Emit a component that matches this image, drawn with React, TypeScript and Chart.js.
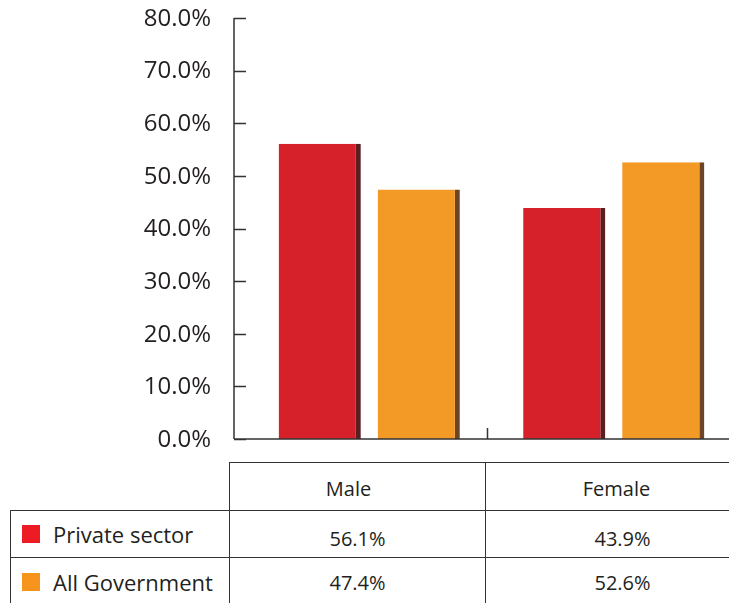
import React, { useEffect, useRef } from "react";
import { Chart, registerables } from "chart.js";

Chart.register(...registerables);

const categories = ["Male", "Female"];
const seriesNames = ["Private sector", "All Government"];
const privateSector = [56.1, 43.9];
const allGovernment = [47.4, 52.6];
const yTicks = [0, 10, 20, 30, 40, 50, 60, 70, 80];

const FONT = "'Open Sans', 'Noto Sans', sans-serif";
const TEXT = "#231f20";
const faceColors = ["#d7212a", "#f39a26"];
const sideColors = ["#5b1e23", "#6c4526"];
const legendColors = ["#ed1c24", "#f7941d"];

const fmt = (v: number) => v.toFixed(1) + "%";

const axesPlugin = {
  id: "customAxes",
  afterDatasetsDraw(chart: any) {
    const { ctx, chartArea, scales } = chart;
    const x = scales.x;
    const y = scales.y;
    const axisX = chartArea.left - 13;
    const y0 = y.getPixelForValue(0);
    const yTop = y.getPixelForValue(yTicks[yTicks.length - 1]);
    ctx.save();
    ctx.strokeStyle = "#333";
    ctx.lineWidth = 1.5;
    ctx.beginPath();
    ctx.moveTo(axisX, yTop);
    ctx.lineTo(axisX, y0);
    ctx.moveTo(axisX, y0);
    ctx.lineTo(chart.width, y0);
    yTicks.forEach((t) => {
      const py = Math.round(y.getPixelForValue(t)) + 0.5;
      ctx.moveTo(axisX, py);
      ctx.lineTo(axisX + 12, py);
    });
    for (let i = 0; i < categories.length - 1; i++) {
      const bx = (x.getPixelForValue(i) + x.getPixelForValue(i + 1)) / 2 - 4;
      ctx.moveTo(bx, y0 - 11);
      ctx.lineTo(bx, y0);
    }
    ctx.stroke();
    ctx.fillStyle = TEXT;
    ctx.font = "24px " + FONT;
    ctx.textAlign = "right";
    ctx.textBaseline = "middle";
    yTicks.forEach((t) => {
      ctx.fillText(fmt(t), axisX - 23, y.getPixelForValue(t) + 1);
    });
    ctx.restore();
  },
};

function ChartCanvas() {
  const ref = useRef<HTMLCanvasElement | null>(null);
  useEffect(() => {
    if (!ref.current) return;
    const chart = new Chart(ref.current, {
      type: "bar",
      data: {
        labels: categories,
        datasets: [privateSector, allGovernment].map((d, i) => ({
          label: seriesNames[i],
          data: d,
          backgroundColor: faceColors[i],
          borderColor: sideColors[i],
          borderWidth: { top: 0, left: 0, bottom: 0, right: 5 },
          borderSkipped: false,
          categoryPercentage: 0.81,
          barPercentage: 0.83,
        })),
      },
      options: {
        responsive: false,
        animation: false,
        devicePixelRatio: 1,
        layout: { padding: { left: 247, right: 9, top: 18, bottom: 21 } },
        plugins: { legend: { display: false }, tooltip: { enabled: false } },
        scales: {
          x: { display: false },
          y: { display: false, min: 0, max: 80 },
        },
      },
      plugins: [axesPlugin],
    } as any);
    return () => chart.destroy();
  }, []);
  return (
    <canvas
      ref={ref}
      width={745}
      height={460}
      style={{ position: "absolute", left: 0, top: 0, width: 745, height: 460 }}
    />
  );
}

const LINE = "1.5px solid #333";

export default function App() {
  const rows = [privateSector, allGovernment];
  const colLeft = [10, 229, 485];
  const colWidth = [219, 256, 274];
  const headerShift = [18, 12];
  const rowTop = [462, 510, 557];
  const rowHeight = [48, 47, 48];
  const cells: React.ReactNode[] = [];
  categories.forEach((c, j) => {
    cells.push(
      <div
        key={"h" + j}
        style={{
          position: "absolute",
          left: colLeft[j + 1],
          top: rowTop[0],
          width: colWidth[j + 1],
          height: rowHeight[0],
          borderTop: LINE,
          borderLeft: LINE,
          boxSizing: "border-box",
          display: "flex",
          alignItems: "center",
          justifyContent: "center",
          fontSize: 20,
          paddingTop: 3,
          paddingRight: headerShift[j],
        }}
      >
        {c}
      </div>
    );
  });
  rows.forEach((r, i) => {
    cells.push(
      <div
        key={"l" + i}
        style={{
          position: "absolute",
          left: colLeft[0],
          top: rowTop[i + 1],
          width: colWidth[0],
          height: rowHeight[i + 1],
          borderTop: LINE,
          borderLeft: LINE,
          boxSizing: "border-box",
          display: "flex",
          alignItems: "center",
          fontSize: 22,
          whiteSpace: "nowrap",
        }}
      >
        <span
          style={{
            display: "inline-block",
            flex: "0 0 18px",
            width: 18,
            height: 18,
            background: legendColors[i],
            marginLeft: 11,
            marginRight: 13,
          }}
        />
        <span>{seriesNames[i]}</span>
      </div>
    );
    r.forEach((v, j) => {
      cells.push(
        <div
          key={"v" + i + j}
          style={{
            position: "absolute",
            left: colLeft[j + 1],
            top: rowTop[i + 1],
            width: colWidth[j + 1],
            height: rowHeight[i + 1],
            borderTop: LINE,
            borderLeft: LINE,
            boxSizing: "border-box",
            display: "flex",
            alignItems: "center",
            justifyContent: "center",
            fontSize: 20,
            paddingTop: i === 0 ? 8 : 2,
          }}
        >
          {fmt(v)}
        </div>
      );
    });
  });
  return (
    <div
      style={{
        position: "fixed",
        left: 0,
        top: 0,
        width: 729,
        height: 603,
        overflow: "hidden",
        background: "#fff",
        fontFamily: FONT,
        color: TEXT,
      }}
    >
      <ChartCanvas />
      {cells}
    </div>
  );
}
